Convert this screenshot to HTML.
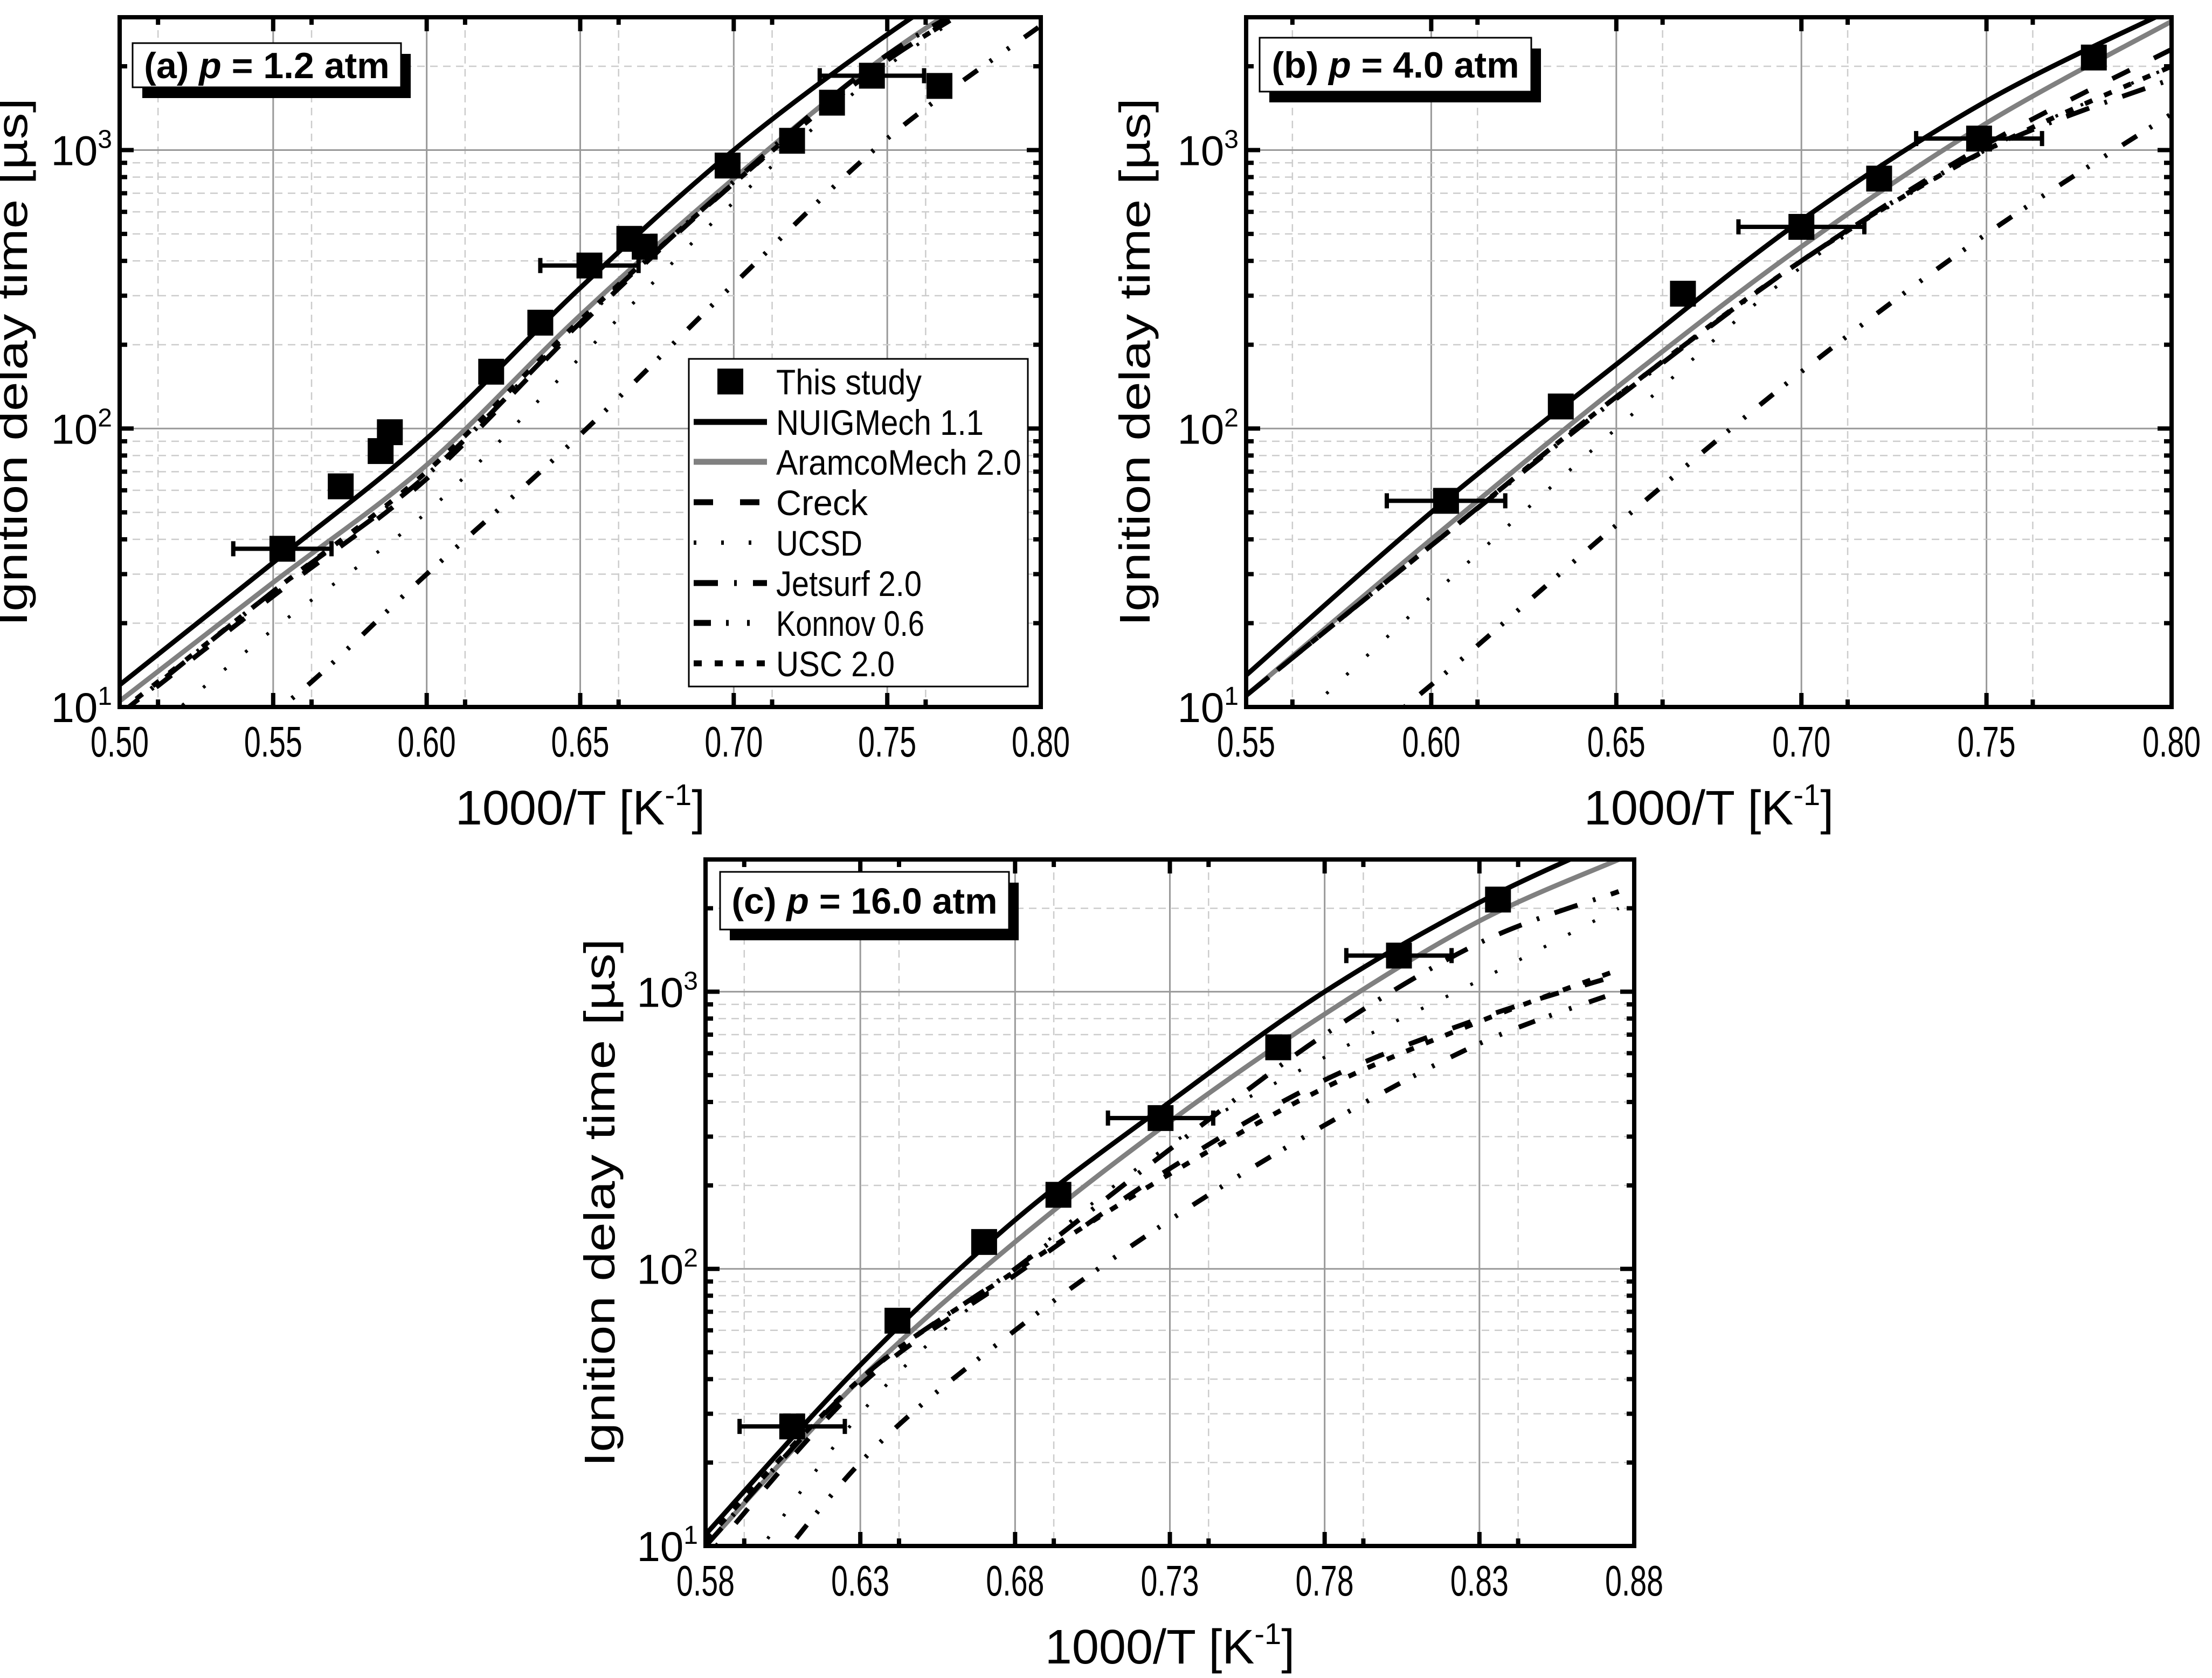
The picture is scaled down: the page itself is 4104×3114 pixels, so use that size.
<!DOCTYPE html>
<html><head><meta charset="utf-8">
<style>
html,body{margin:0;padding:0;background:#fff;}
svg{display:block;}
text{font-family:"Liberation Sans Narrow","Liberation Sans",sans-serif;fill:#000;}
.leg{font-family:"Liberation Sans",sans-serif;}
</style></head>
<body>
<svg id="fig" width="4104" height="3114" viewBox="0 0 4104 3114" xmlns="http://www.w3.org/2000/svg"></svg>
<script>
// ---------- DATA ----------
const seriesNames = ["NUIGMech 1.1","AramcoMech 2.0","Creck","UCSD","Jetsurf 2.0","Konnov 0.6","USC 2.0"];
// Panel (a) p = 1.2 atm
const aExpX = [0.553,0.572,0.585,0.588,0.621,0.637,0.653,0.666,0.671,0.698,0.719,0.732,0.745,0.767];
const aExpY = [37,62,83,97,160,240,385,480,450,880,1080,1480,1850,1700];
const aErrIdx = [0,6,12];
const aErrHalf = [0.016,0.016,0.017];
const aCurveX = [0.50,0.55,0.60,0.65,0.70,0.75,0.80];
const aNUIG   = [12,33,92,320,1000,2600,6000];
const aAramco = [10.5,28,74,255,790,2200,5000];
const aCreck  = [9.3,25,66,235,760,2100,4500];
const aUCSD   = [6.5,19,50,180,650,2000,4500];
const aJet    = [9.4,26,68,240,770,2200,4500];
const aKonnov = [4.5,9.5,30,95,330,1100,2800];
const aUSC    = [9.6,26,70,245,760,2100,4500];
// Panel (b) p = 4.0 atm
const bExpX = [0.604,0.635,0.668,0.700,0.721,0.748,0.779];
const bExpY = [55,120,305,530,790,1100,2150];
const bErrIdx = [0,3,5];
const bErrHalf = [0.016,0.017,0.017];
const bCurveX = [0.55,0.60,0.65,0.70,0.75,0.80];
const bNUIG   = [13,50,170,560,1500,3200];
const bAramco = [11,40,140,450,1250,2900];
const bCreck  = [11,38,130,400,1050,2300];
const bUCSD   = [6,25,100,380,1000,2000];
const bJet    = [11,38,128,400,1000,1800];
const bKonnov = [3.5,12,45,160,500,1350];
const bUSC    = [11,38,130,400,1000,2000];
// Panel (c) p = 16.0 atm
const cExpX = [0.608,0.642,0.670,0.694,0.727,0.765,0.804,0.836];
const cExpY = [27,65,125,185,350,630,1350,2150];
const cErrIdx = [0,4,6];
const cErrHalf = [0.017,0.017,0.017];
const cCurveX = [0.58,0.63,0.68,0.73,0.78,0.83,0.875];
const cNUIG   = [11,45,150,400,1000,2100,3600];
const cAramco = [10,40,125,340,830,1800,3000];
const cCreck  = [9,38,95,230,480,800,1150];
const cUCSD   = [5,30,100,280,580,1100,2000];
const cJet    = [10,40,100,270,700,1500,2300];
const cKonnov = [4,20,60,150,330,650,1000];
const cUSC    = [10.5,40,98,220,450,780,1200];
// ticks
const aXTicks = ["0.50","0.55","0.60","0.65","0.70","0.75","0.80"];
const bXTicks = ["0.55","0.60","0.65","0.70","0.75","0.80"];
const cXTicks = ["0.58","0.63","0.68","0.73","0.78","0.83","0.88"];
const yTickExp = [1,2,3];

// ---------- HELPERS ----------
const NS="http://www.w3.org/2000/svg";
const svg=document.getElementById('fig');
function mk(tag,attrs,parent){const e=document.createElementNS(NS,tag);for(const k in attrs)e.setAttribute(k,attrs[k]);(parent||svg).appendChild(e);return e;}
const styles=[
 {stroke:"#000",w:9,dash:null},
 {stroke:"#808080",w:9,dash:null},
 {stroke:"#000",w:9,dash:"36 50"},
 {stroke:"#000",w:6,dash:"5 46"},
 {stroke:"#000",w:9,dash:"45 30 5 30"},
 {stroke:"#000",w:9,dash:"32 28 5 34 5 34"},
 {stroke:"#000",w:9,dash:"15 24"}
];
const catNames=["nuig","aramco","creck","ucsd","jetsurf","konnov","usc"];

function panel(id,L,R,T,B,xmin,xmax,xTicks,xStep,expX,expY,errIdx,errHalf,curveX,curves,title,box,ylabX,legend){
 const g=mk('g',{});
 
 
 const ymin=1, ymax=Math.log10(3000);
 const sx=v=>L+(v-xmin)/(xmax-xmin)*(R-L);
 const sy=v=>B-(Math.log10(v)-ymin)/(ymax-ymin)*(B-T);
 const clip=mk('clipPath',{id:'clip'+id},g);
 mk('rect',{x:L,y:T,width:R-L,height:B-T},clip);
 const grid=mk('g',{},g);
 
 
 for(let i=0;i<xTicks.length;i++){
  const x=sx(parseFloat(xTicks[i]));
  if(i>0&&i<xTicks.length-1) mk('line',{x1:x,x2:x,y1:T,y2:B,stroke:'#999',"stroke-width":3},grid);
  const xm=sx(parseFloat(xTicks[i])+xStep/2);
  if(i<xTicks.length-1) mk('line',{x1:xm,x2:xm,y1:T,y2:B,stroke:'#ccc',"stroke-width":2.5,"stroke-dasharray":"14 10"},grid);
 }
 for(let d=1;d<=3;d++){
  for(let m=1;m<=9;m++){
   const v=m*Math.pow(10,d);if(v>3000)break;
   const y=sy(v);
   if(m===1){ if(d>1) mk('line',{x1:L,x2:R,y1:y,y2:y,stroke:'#999',"stroke-width":3},grid);}
   else mk('line',{x1:L,x2:R,y1:y,y2:y,stroke:'#ccc',"stroke-width":2.5,"stroke-dasharray":"14 10"},grid);
  }
 }
 const cg=mk('g',{"clip-path":`url(#clip${id})`},g);
 curves.forEach((arr,si)=>{
  const pts=curveX.map((x,i)=>[sx(x),sy(arr[i])]);
  let d=`M${pts[0][0]},${pts[0][1]}`;
  for(let i=0;i<pts.length-1;i++){
   const p0=pts[Math.max(0,i-1)],p1=pts[i],p2=pts[i+1],p3=pts[Math.min(pts.length-1,i+2)];
   const c1=[p1[0]+(p2[0]-p0[0])/6,p1[1]+(p2[1]-p0[1])/6];
   const c2=[p2[0]-(p3[0]-p1[0])/6,p2[1]-(p3[1]-p1[1])/6];
   d+=` C${c1[0]},${c1[1]} ${c2[0]},${c2[1]} ${p2[0]},${p2[1]}`;
  }
  const st=styles[si];
  const p=mk('path',{d:d,fill:'none',stroke:st.stroke,"stroke-width":st.w},cg);
  if(st.dash)p.setAttribute('stroke-dasharray',st.dash);
  
  
 });
 errIdx.forEach((k,j)=>{
  const y=sy(expY[k]),x1=sx(expX[k]-errHalf[j]),x2=sx(expX[k]+errHalf[j]);
  const e=mk('path',{d:`M${x1},${y}H${x2}M${x1},${y-14}V${y+14}M${x2},${y-14}V${y+14}`,stroke:'#000',"stroke-width":8,fill:'none'},cg);
  
  
 });
 expX.forEach((x,i)=>{
  const r=mk('rect',{x:sx(x)-24,y:sy(expY[i])-24,width:48,height:48,fill:'#000'},cg);
  
  
 });
 const ax=mk('g',{},g);
 
 
 mk('rect',{x:L,y:T,width:R-L,height:B-T,fill:'none',stroke:'#000',"stroke-width":8},ax);
 for(let i=0;i<xTicks.length;i++){
  const x=sx(parseFloat(xTicks[i]));
  mk('line',{x1:x,x2:x,y1:B,y2:B-26,stroke:'#000',"stroke-width":8},ax);
  mk('line',{x1:x,x2:x,y1:T,y2:T+26,stroke:'#000',"stroke-width":8},ax);
  if(i<xTicks.length-1){const xm=sx(parseFloat(xTicks[i])+xStep/2);
   mk('line',{x1:xm,x2:xm,y1:B,y2:B-14,stroke:'#000',"stroke-width":8},ax);
   mk('line',{x1:xm,x2:xm,y1:T,y2:T+14,stroke:'#000',"stroke-width":8},ax);}
  const t=mk('text',{x:x,y:B+92,"font-size":80,"text-anchor":"middle",textLength:108,lengthAdjust:"spacingAndGlyphs"},ax);
  t.textContent=xTicks[i];
  
  
 }
 for(let d=1;d<=3;d++){
  for(let m=1;m<=9;m++){
   const v=m*Math.pow(10,d);if(v>3000)break;const y=sy(v);const len=m===1?26:14;
   mk('line',{x1:L,x2:L+len,y1:y,y2:y,stroke:'#000',"stroke-width":8},ax);
   mk('line',{x1:R,x2:R-len,y1:y,y2:y,stroke:'#000',"stroke-width":8},ax);
  }
 }
 yTickExp.forEach(e=>{
  const y=sy(Math.pow(10,e));
  const t=mk('text',{x:L-14,y:y+28,"font-size":78,"text-anchor":"end"},ax);
  t.innerHTML=`10<tspan dy="-32" font-size="48">${e}</tspan>`;
  
  
 });
 const xt=mk('text',{x:(L+R)/2,y:B+218,"font-size":90,"text-anchor":"middle"},g);
 xt.innerHTML='1000/T [K<tspan dy="-36" font-size="56">-1</tspan><tspan dy="36">]</tspan>';
 
 
 const cy=(T+B)/2;
 const yt=mk('text',{x:ylabX,y:cy,"font-size":80,"text-anchor":"middle",class:"leg",textLength:980,lengthAdjust:"spacingAndGlyphs",transform:`rotate(-90 ${ylabX} ${cy})`},g);
 yt.textContent='Ignition delay time [\u00b5s]';
 
 
 const tb=mk('g',{},g);
 
 
 mk('rect',{x:box[0]+18,y:box[1]+20,width:box[2],height:box[3],fill:'#000'},tb);
 mk('rect',{x:box[0],y:box[1],width:box[2],height:box[3],fill:'#fff',stroke:'#000',"stroke-width":3},tb);
 const tt=mk('text',{x:box[0]+box[2]/2,y:box[1]+box[3]/2+24,"font-size":68,"font-weight":"bold","text-anchor":"middle"},tb);
 tt.innerHTML=title;
 if(legend){
  const lg=mk('g',{},g);
  
  
  mk('rect',{x:1278,y:666,width:629,height:608,fill:'#fff',stroke:'#000',"stroke-width":3},lg);
  const rows=[708,783,857,932,1007,1082,1156,1231];
  const labels=["This study"].concat(seriesNames);
  const widths=[270,385,455,170,160,270,275,220];
  rows.forEach((y,i)=>{
   const e=mk('g',{},lg);
   
   
   if(i===0) mk('rect',{x:1331,y:y-24,width:48,height:48,fill:'#000'},e);
   else{const st=styles[i-1];const p=mk('line',{x1:1287,x2:1423,y1:y,y2:y,stroke:st.stroke,"stroke-width":st.w+2},e);if(st.dash)p.setAttribute('stroke-dasharray',st.dash);}
   const t=mk('text',{x:1440,y:y+24,"font-size":66,class:"leg",textLength:widths[i],lengthAdjust:"spacingAndGlyphs"},e);
   t.textContent=labels[i];
  });
 }
}

panel('a',222,1931,32,1312,0.50,0.80,aXTicks,0.025,aExpX,aExpY,aErrIdx,aErrHalf,aCurveX,
 [aNUIG,aAramco,aCreck,aUCSD,aJet,aKonnov,aUSC],'(a) <tspan font-style="italic">p</tspan> = 1.2 atm',[246,80,498,82],50,true);
panel('b',2312,4029,32,1312,0.55,0.80,bXTicks,0.025,bExpX,bExpY,bErrIdx,bErrHalf,bCurveX,
 [bNUIG,bAramco,bCreck,bUCSD,bJet,bKonnov,bUSC],'(b) <tspan font-style="italic">p</tspan> = 4.0 atm',[2337,70,504,100],2133,false);
panel('c',1309,3032,1595,2869,0.58,0.88,cXTicks,0.025,cExpX,cExpY,cErrIdx,cErrHalf,cCurveX,
 [cNUIG,cAramco,cCreck,cUCSD,cJet,cKonnov,cUSC],'(c) <tspan font-style="italic">p</tspan> = 16.0 atm',[1336,1618,536,107],1140,false);
</script>
</body></html>
